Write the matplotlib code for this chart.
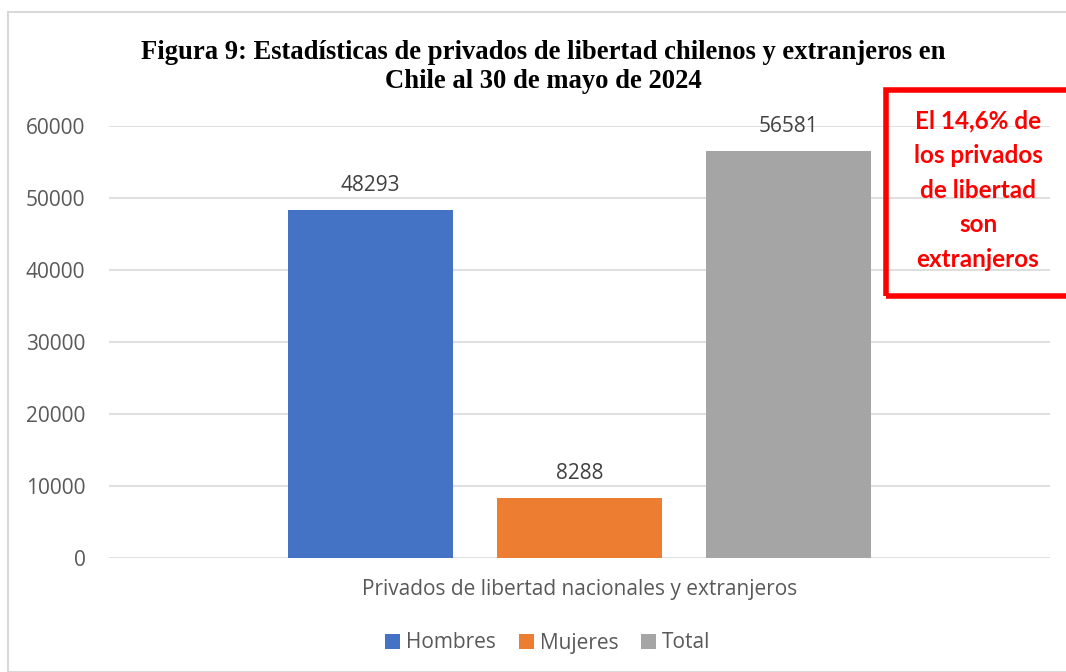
import matplotlib.pyplot as plt
from matplotlib.patches import Rectangle

plt.rcParams['font.family'] = ['Open Sans', 'DejaVu Sans']

# datos
series = ['Hombres', 'Mujeres', 'Total']
valores = [48293, 8288, 56581]
colores = ['#4472C4', '#ED7D31', '#A5A5A5']
categoria = 'Privados de libertad nacionales y extranjeros'
yticks = [0, 10000, 20000, 30000, 40000, 50000, 60000]

fig = plt.figure(figsize=(10.66, 6.72), dpi=100)
ax = fig.add_axes([109 / 1066, 1 - 558 / 672, 941 / 1066, 432 / 672])

# borde del grafico
fig.patches.append(Rectangle((8 / 1066, 0), 1.1, 1 - 12 / 672, transform=fig.transFigure,
                             fill=False, edgecolor='#d9d9d9', linewidth=1.5))

for i, (s, v, c) in enumerate(zip(series, valores, colores)):
    ax.bar(i, v, width=0.79, color=c, label=s, zorder=3)
    ax.text(i, v + 3400, str(v), ha='center', va='center', fontsize=15, color='#404040')

ax.set_xlim(-1.25, 3.25)
ax.set_ylim(0, 60000)
ax.set_yticks(yticks)
ax.set_yticklabels([str(t) for t in yticks], fontsize=15, color='#595959')
ax.set_xticks([])
ax.tick_params(axis='y', length=0, pad=17)
ax.grid(axis='y', color='#d9d9d9', linewidth=1.2, zorder=0)
for sp in ax.spines.values():
    sp.set_visible(False)

fig.text(580 / 1066, 1 - 589 / 672, categoria, ha='center', va='center', fontsize=15, color='#595959')

fig.text(543 / 1066, 1 - 67 / 672,
         'Figura 9: Estadísticas de privados de libertad chilenos y extranjeros en\nChile al 30 de mayo de 2024',
         ha='center', va='center', fontsize=19.2, fontweight='bold',
         family='Liberation Serif', linespacing=1.2)

leg = fig.legend(loc='center', bbox_to_anchor=(548 / 1066, 1 - 643 / 672), ncol=3, frameon=False,
                 fontsize=15, handlelength=0.7, handleheight=0.7, handletextpad=0.3,
                 columnspacing=1.1, labelcolor='#595959')

# recuadro rojo
fig.patches.append(Rectangle((886 / 1066, 1 - 296 / 672), 0.3, 206 / 672, transform=fig.transFigure,
                             fill=False, edgecolor='#FF0000', linewidth=4))
fig.text(978 / 1066, 1 - 190 / 672,
         'El 14,6% de\nlos privados\nde libertad\nson\nextranjeros',
         ha='center', va='center', fontsize=17.5, fontweight='bold', color='#FF0000',
         family=['Lato', 'DejaVu Sans'], linespacing=1.62)

fig.savefig('out.png', dpi=100)
